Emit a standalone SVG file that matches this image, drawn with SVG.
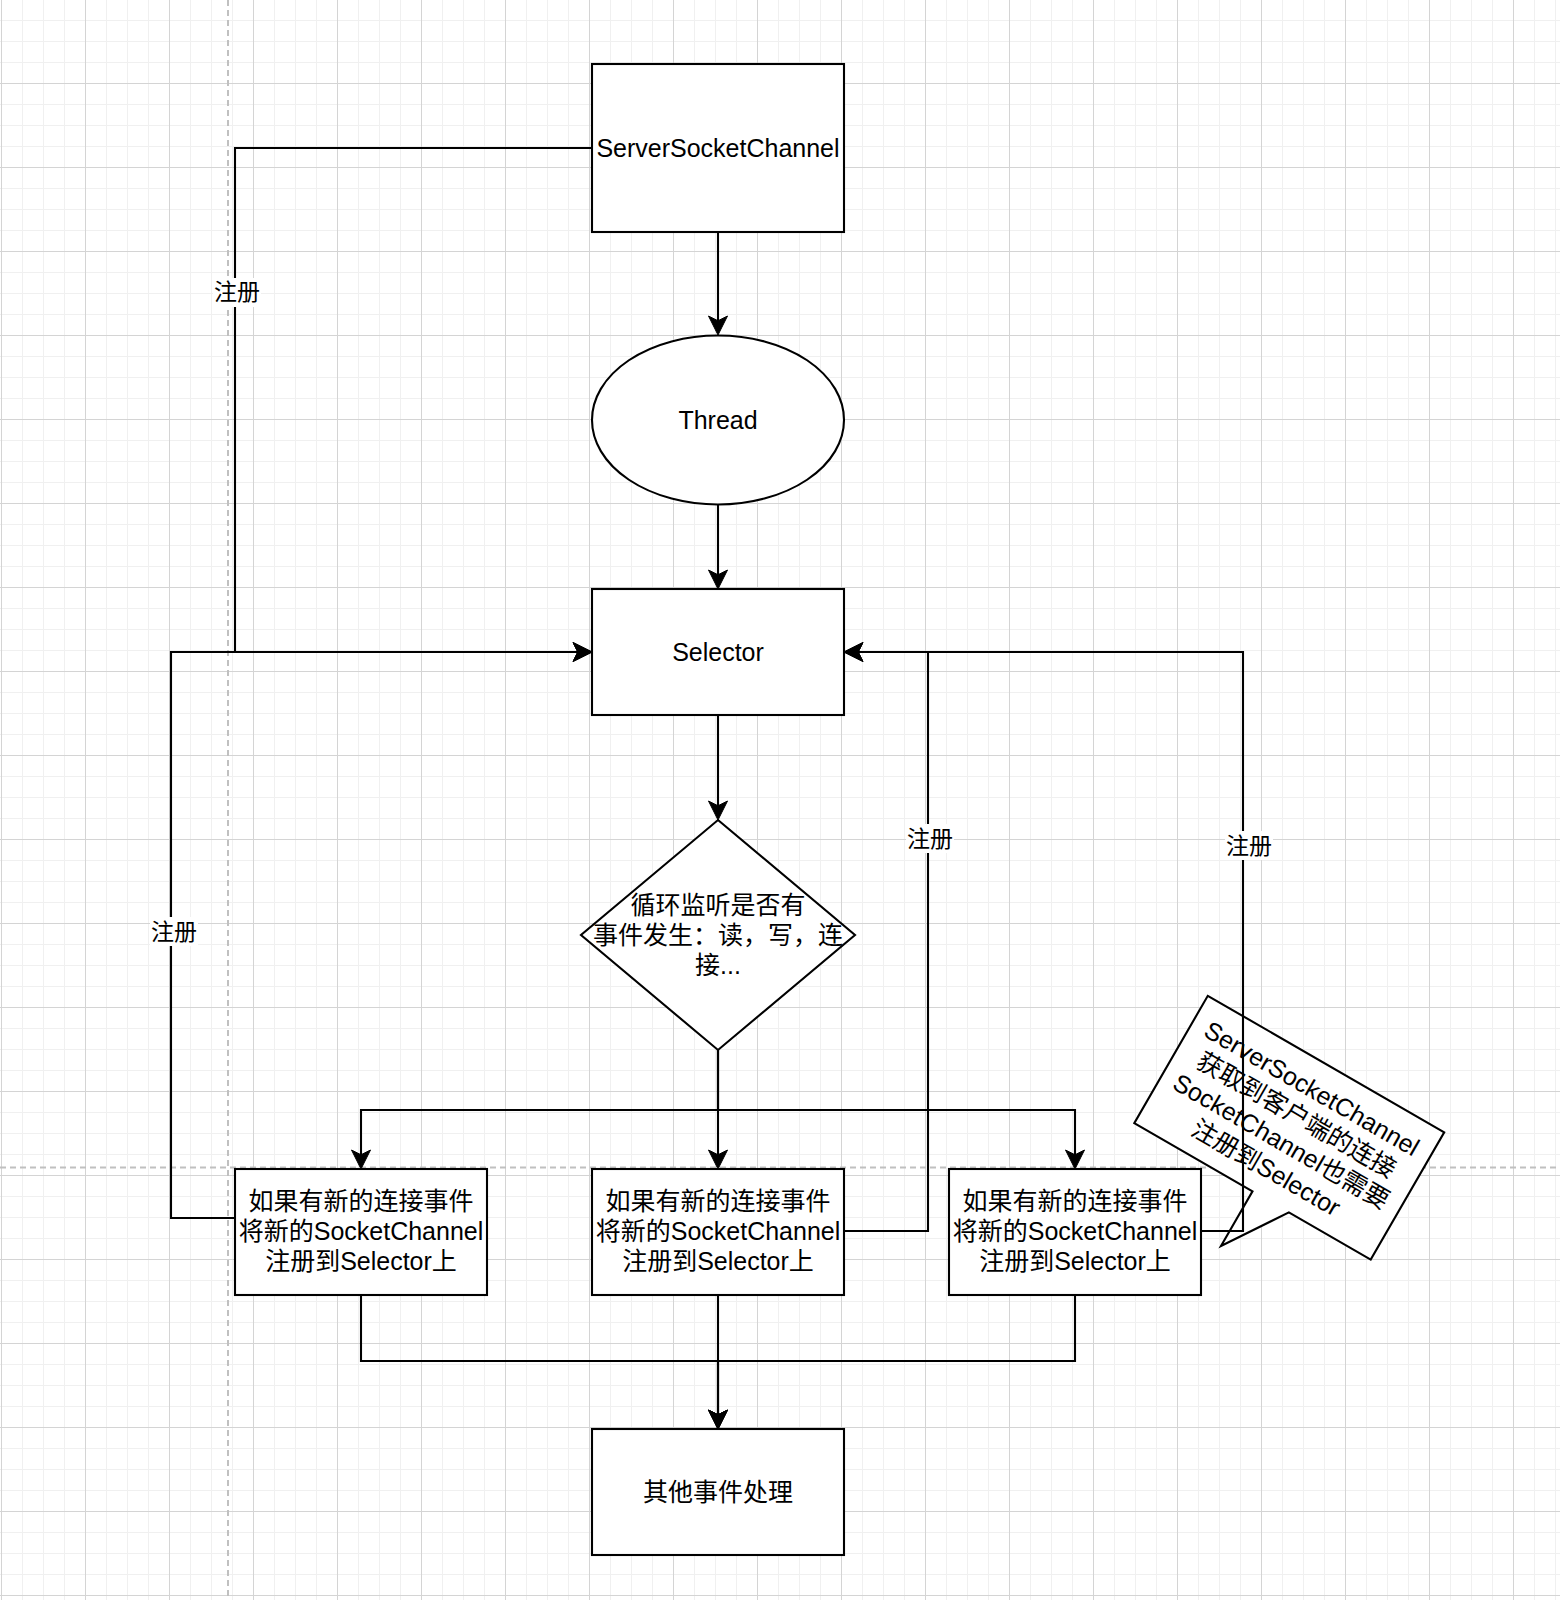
<svg xmlns="http://www.w3.org/2000/svg" width="1560" height="1600" viewBox="0 0 1560 1600">
<style>
.node{fill:#ffffff;stroke:#000000;stroke-width:2.1}
.t{font-family:"Liberation Sans","Noto Sans CJK SC",sans-serif;font-size:25px;fill:#000000;text-anchor:middle}
.lbl{font-family:"Liberation Sans","Noto Sans CJK SC",sans-serif;font-size:23px;fill:#000000;text-anchor:middle}
.lblbg{fill:#ffffff}
.edge{fill:none;stroke:#000000;stroke-width:2.1}
.arr{marker-end:url(#arrow)}
.page{stroke:#c0c0c0;stroke-width:2;stroke-dasharray:6 4;fill:none}
</style>
<defs>
<pattern id="grid" x="1" y="-1" width="84" height="84" patternUnits="userSpaceOnUse">
<rect x="0" y="0" width="84" height="84" fill="#ffffff"/>
<rect x="21" y="0" width="1" height="84" fill="#f0f0f0"/>
<rect x="42" y="0" width="1" height="84" fill="#f0f0f0"/>
<rect x="63" y="0" width="1" height="84" fill="#f0f0f0"/>
<rect x="0" y="21" width="84" height="1" fill="#f0f0f0"/>
<rect x="0" y="42" width="84" height="1" fill="#f0f0f0"/>
<rect x="0" y="63" width="84" height="1" fill="#f0f0f0"/>
<rect x="0" y="0" width="1" height="84" fill="#d4d4d4"/>
<rect x="0" y="0" width="84" height="1" fill="#d4d4d4"/>
</pattern>
<marker id="arrow" markerUnits="userSpaceOnUse" viewBox="-21 -11 22 22" markerWidth="22" markerHeight="22" refX="-10" refY="0" orient="auto">
<path d="M0,0 L-19,-9.5 L-14.25,0 L-19,9.5 Z" fill="#000000" stroke="#000000" stroke-width="1"/>
</marker>
</defs>
<rect x="0" y="0" width="1560" height="1600" fill="url(#grid)"/>
<g id="page-breaks">
<line class="page" x1="228" y1="0" x2="228" y2="1600"/>
<line class="page" x1="0" y1="1167.5" x2="1560" y2="1167.5"/>
</g>

<g id="callout">
<g transform="rotate(30 1273.5 1155)">
<polygon class="node" points="1137,1050 1410,1050 1410,1197 1315.5,1197 1273.5,1260 1273.5,1197 1137,1197"/>
<text class="t" x="1273.5" y="1087">ServerSocketChannel</text>
<text class="t" x="1273.5" y="1117.5">获取到客户端的连接</text>
<text class="t" x="1273.5" y="1148">SocketChannel也需要</text>
<text class="t" x="1273.5" y="1178.5">注册到Selector</text>
</g>
</g>

<g id="connectors">
<path class="edge arr" d="M592,148 H235 V652 H582"/>
<path class="edge arr" d="M718,232 V325"/>
<path class="edge arr" d="M718,505 V579"/>
<path class="edge arr" d="M718,715 V810"/>
<path class="edge arr" d="M718,1050 V1110 H361 V1159"/>
<path class="edge arr" d="M718,1050 V1159"/>
<path class="edge arr" d="M718,1050 V1110 H1075 V1159"/>
<path class="edge arr" d="M235,1218 H171 V652 H582"/>
<path class="edge arr" d="M844,1231 H928 V652 H854"/>
<path class="edge arr" d="M1201,1231 H1243 V652 H854"/>
<path class="edge arr" d="M361,1295 V1361 H718 V1419"/>
<path class="edge arr" d="M718,1295 V1419"/>
<path class="edge arr" d="M1075,1295 V1361 H718 V1419"/>
<g id="edge-labels">
<rect class="lblbg" x="213" y="278" width="48" height="29"/>
<text class="lbl" x="237" y="300">注册</text>
<rect class="lblbg" x="150" y="917" width="48" height="29"/>
<text class="lbl" x="174" y="939.5">注册</text>
<rect class="lblbg" x="906" y="824" width="48" height="29"/>
<text class="lbl" x="930" y="847">注册</text>
<rect class="lblbg" x="1225" y="831" width="48" height="29"/>
<text class="lbl" x="1249" y="854">注册</text>
</g>
</g>

<g id="serverSocketChannel">
<rect class="node" x="592" y="64" width="252" height="168"/>
<text class="t" x="718" y="157">ServerSocketChannel</text>
</g>
<g id="thread">
<ellipse class="node" cx="718" cy="420" rx="126" ry="84.5"/>
<text class="t" x="718" y="429">Thread</text>
</g>
<g id="selector">
<rect class="node" x="592" y="589" width="252" height="126"/>
<text class="t" x="718" y="661">Selector</text>
</g>
<g id="loop">
<polygon class="node" points="718,820 855,935 718,1050 581,935"/>
<text class="t" x="718" y="914">循环监听是否有</text>
<text class="t" x="718" y="944">事件发生：读，写，连</text>
<text class="t" x="718" y="974">接...</text>
</g>
<g id="handler-left">
<rect class="node" x="235" y="1169" width="252" height="126"/>
<text class="t" x="361" y="1210">如果有新的连接事件</text>
<text class="t" x="361" y="1240">将新的SocketChannel</text>
<text class="t" x="361" y="1270">注册到Selector上</text>
</g>
<g id="handler-middle">
<rect class="node" x="592" y="1169" width="252" height="126"/>
<text class="t" x="718" y="1210">如果有新的连接事件</text>
<text class="t" x="718" y="1240">将新的SocketChannel</text>
<text class="t" x="718" y="1270">注册到Selector上</text>
</g>
<g id="handler-right">
<rect class="node" x="949" y="1169" width="252" height="126"/>
<text class="t" x="1075" y="1210">如果有新的连接事件</text>
<text class="t" x="1075" y="1240">将新的SocketChannel</text>
<text class="t" x="1075" y="1270">注册到Selector上</text>
</g>
<g id="other-events">
<rect class="node" x="592" y="1429" width="252" height="126"/>
<text class="t" x="718" y="1501">其他事件处理</text>
</g>
</svg>
